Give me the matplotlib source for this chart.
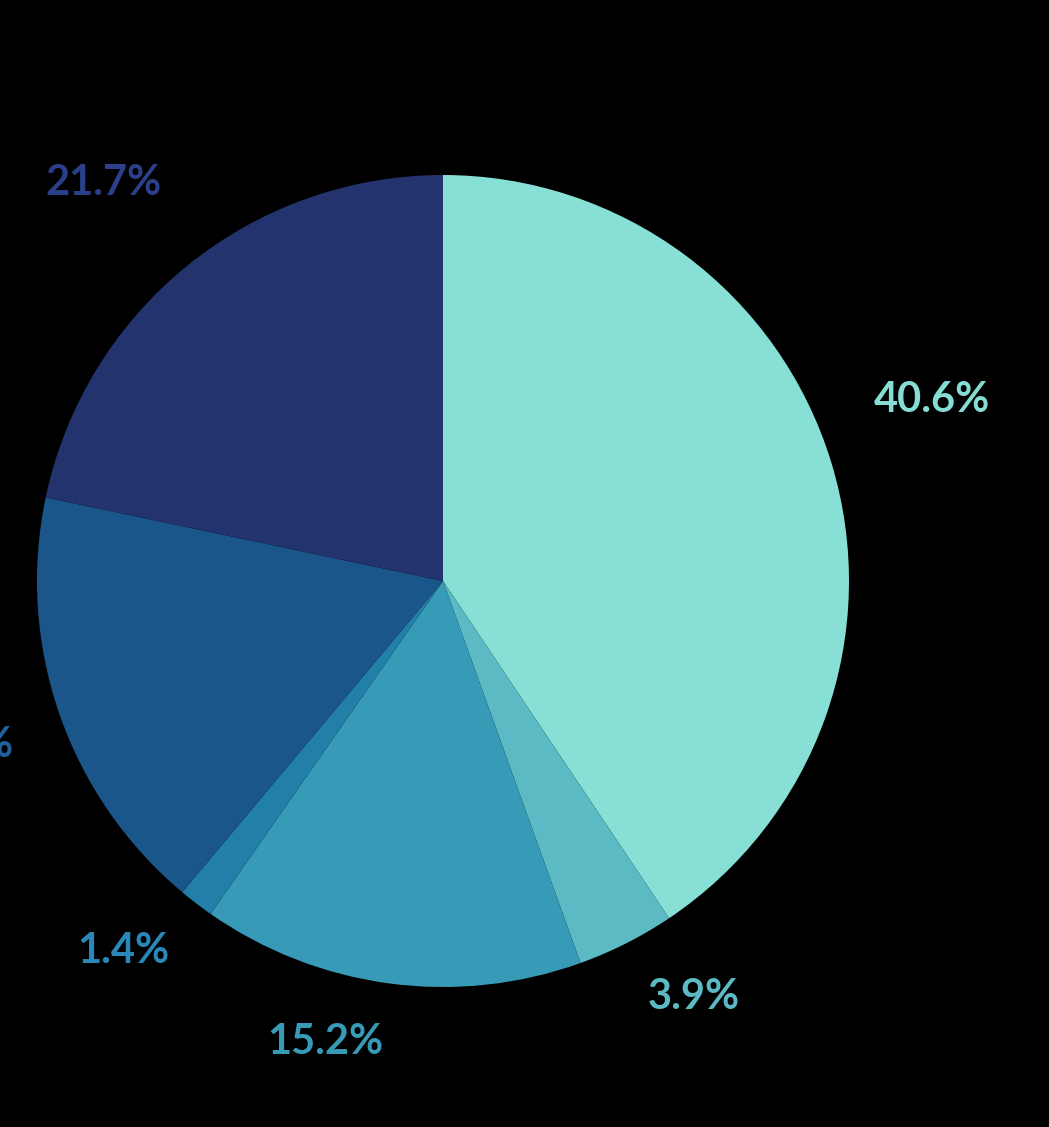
import numpy as np
import matplotlib
matplotlib.use("Agg")
import matplotlib.pyplot as plt

# ---------- data ----------
values = [40.6, 3.9, 15.2, 1.4, 17.2, 21.7]
labels = ["40.6%", "3.9%", "15.2%", "1.4%", "17.2%", "21.7%"]
slice_colors = ["#87dfd6", "#5bbac4", "#379bb8", "#2280a8", "#1a5689", "#22336e"]
label_colors = ["#86ddd3", "#5bbac4", "#379bb8", "#2a88b8", "#1e60a0", "#2c3f8a"]
# label placement: distance from centre and angle shift from the slice middle
label_radius = [1.284, 1.196, 1.172, 1.203, 1.268, 1.289]
label_shift = [3.4, 4.2, -6.7, -3.4, -0.5, 1.4]

W, H = 1049, 1127
fig = plt.figure(figsize=(W / 100, H / 100), dpi=100, facecolor="black")

# pie centred at (443, 581) px, radius 406 px
cx, cy, r = 443, 581, 406
ax = fig.add_axes([(cx - r) / W, 1 - (cy + r) / H, 2 * r / W, 2 * r / H])
ax.set_facecolor("black")

wedges, _ = ax.pie(values, colors=slice_colors, startangle=90, counterclock=False,
                   radius=1, wedgeprops=dict(linewidth=0))

total = sum(values)
cum = 0
for v, lab, col, rad, sh in zip(values, labels, label_colors, label_radius, label_shift):
    mid = 90 - (cum + v / 2) / total * 360 + sh
    cum += v
    a = np.deg2rad(mid)
    ax.text(rad * np.cos(a), rad * np.sin(a), lab, color=col, ha="center", va="center",
            fontsize=30, fontweight="bold", family="Lato", clip_on=False)

ax.set_xlim(-1, 1)
ax.set_ylim(-1, 1)
ax.set_aspect("equal")
ax.axis("off")

fig.savefig("out.png", dpi=100, facecolor="black")
